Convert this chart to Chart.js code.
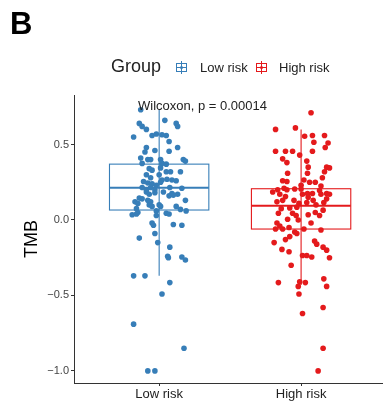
<!DOCTYPE html>
<html>
<head>
<meta charset="utf-8">
<script src="https://cdn.jsdelivr.net/npm/chart.js@4.4.0/dist/chart.umd.min.js"></script>
<style>
  body { margin: 0; background: #fff; font-family: "Liberation Sans", Arial, sans-serif; }
  #wrap { position: relative; width: 386px; height: 404px; overflow: hidden; }
  #myChart { position: absolute; left: 0; top: 0; }
  .lbl { position: absolute; white-space: nowrap; color: #000; }
  .panel { left: 10px; top: 6px; font-size: 31px; font-weight: bold; }
  .grp { left: 111px; top: 56px; font-size: 18px; color: #222; }
  .item { top: 60px; font-size: 13px; color: #222; }
  .icon { position: absolute; top: 63px; width: 9px; height: 7px; border: 1px solid; }
  .icon i { position: absolute; left: 0; right: 0; top: 3px; height: 1px; }
  .icon b { position: absolute; left: 4px; width: 1px; top: -3px; height: 13px; }
  .icon u { position: absolute; left: 3px; top: 2px; width: 3px; height: 3px; border-radius: 2px; }
  .wil { left: 138px; top: 98px; font-size: 13px; color: #222; }
</style>
</head>
<body>
<div id="wrap">
  <canvas id="myChart" width="386" height="404"></canvas>
  <div class="lbl panel">B</div>
  <div class="lbl grp">Group</div>
  <div class="icon" id="iconLow"><i></i><b></b><u></u></div>
  <div class="lbl item" style="left:200px">Low risk</div>
  <div class="icon" id="iconHigh"><i></i><b></b><u></u></div>
  <div class="lbl item" style="left:279px">High risk</div>
  <div class="lbl wil">Wilcoxon, p = 0.00014</div>
</div>
<script>
// groups and colours
const groups = ['Low risk', 'High risk']
const groupPos = [1, 2]
const groupColors = ['#377EB8', '#E41A1C']

// box stats
const whiskerLow = [-0.37, -0.43]
const boxQ1 = [0.066, -0.06]
const boxMedian = [0.214, 0.095]
const boxQ3 = [0.37, 0.207]
const whiskerHigh = [0.73, 0.60]

// jittered points (x offset from group centre, TMB value)
const lowRiskJitter = [-0.13,-0.14,-0.12,-0.09,0.04,0.12,0.13,-0.18,-0.05,-0.02,0.02,0.05,0.07,-0.09,-0.03,-0.10,0.07,0.13,-0.08,0.01,
  -0.13,-0.12,-0.06,0.02,0.17,0.185,0.05,-0.07,-0.05,0.01,0.05,0.08,0.15,-0.09,-0.06,0.0,0.02,0.055,0.09,0.12,
  -0.11,-0.08,-0.05,-0.02,0.01,0.075,-0.12,-0.09,-0.06,-0.03,0.03,0.09,0.13,0.16,-0.07,-0.09,-0.03,0.07,0.10,-0.14,
  -0.12,-0.17,-0.15,-0.08,-0.06,-0.07,-0.05,0.0,0.01,0.12,0.185,0.15,0.19,-0.16,-0.15,-0.19,-0.16,-0.02,-0.02,0.05,
  0.07,-0.05,-0.04,0.10,0.16,-0.03,-0.14,-0.01,0.075,0.06,0.065,0.16,0.185,-0.18,-0.10,0.075,0.02,-0.18,0.175,-0.08,-0.03]
const lowRiskTMB = [0.73,0.64,0.62,0.60,0.66,0.64,0.62,0.55,0.56,0.57,0.565,0.56,0.52,0.48,0.46,0.45,0.455,0.48,0.40,0.40,
  0.41,0.375,0.40,0.375,0.40,0.39,0.37,0.34,0.33,0.345,0.32,0.32,0.32,0.30,0.28,0.30,0.265,0.27,0.265,0.26,
  0.255,0.245,0.24,0.23,0.25,0.215,0.215,0.20,0.215,0.20,0.185,0.175,0.17,0.21,0.17,0.185,0.18,0.16,0.165,0.145,
  0.14,0.12,0.11,0.13,0.12,0.10,0.09,0.10,0.09,0.09,0.13,0.07,0.06,0.075,0.05,0.035,0.04,0.06,0.03,0.045,
  0.04,-0.02,-0.035,-0.03,-0.035,-0.09,-0.12,-0.15,-0.18,-0.24,-0.25,-0.245,-0.265,-0.37,-0.37,-0.415,-0.49,-0.69,-0.85,-1.0,-1.0]

const highRiskJitter = [0.07,-0.18,-0.04,0.025,0.08,0.165,0.09,0.19,0.17,-0.18,-0.11,-0.06,0.08,-0.01,-0.13,-0.10,0.04,0.05,0.18,0.2,
  0.165,-0.095,0.045,0.15,-0.13,-0.10,0.02,0.06,0.10,0.0,0.14,-0.12,-0.165,-0.2,-0.10,-0.045,0.0,0.045,0.08,0.13,
  0.18,-0.15,-0.11,-0.17,-0.13,-0.05,0.01,0.05,0.085,0.14,0.18,0.2,-0.015,0.04,0.105,0.16,-0.14,-0.08,-0.03,-0.16,
  -0.06,-0.035,0.05,0.10,0.13,0.155,-0.095,-0.02,0.07,-0.17,-0.15,-0.18,-0.13,-0.085,-0.045,-0.03,0.02,0.14,-0.19,-0.11,
  -0.08,0.095,0.11,-0.135,-0.085,0.155,0.18,0.01,0.04,0.075,0.2,-0.07,-0.16,-0.01,0.03,0.16,-0.02,0.18,-0.015,0.01,
  0.155,0.155,0.12]
const highRiskTMB = [0.71,0.60,0.61,0.555,0.56,0.56,0.515,0.51,0.48,0.455,0.455,0.455,0.455,0.43,0.405,0.38,0.39,0.35,0.35,0.345,
  0.32,0.31,0.31,0.28,0.26,0.255,0.265,0.25,0.25,0.23,0.225,0.21,0.20,0.185,0.20,0.205,0.205,0.175,0.175,0.195,
  0.175,0.17,0.155,0.12,0.13,0.13,0.17,0.15,0.13,0.17,0.14,0.17,0.11,0.115,0.10,0.115,0.075,0.08,0.085,0.045,
  0.045,0.03,0.035,0.05,0.03,0.065,0.005,0.0,-0.02,-0.02,-0.04,-0.06,-0.06,-0.05,-0.08,-0.09,-0.06,-0.066,-0.15,-0.13,
  -0.11,-0.14,-0.16,-0.195,-0.21,-0.18,-0.2,-0.235,-0.235,-0.245,-0.25,-0.30,-0.415,-0.41,-0.415,-0.39,-0.44,-0.44,-0.49,-0.62,
  -0.58,-0.85,-1.0]

// axis ticks
const yTickValues = [-1.0, -0.5, 0.0, 0.5]
const xTickValues = [1, 2]

function toPoints(pos, jitter, vals) {
  return vals.map((v, i) => ({ x: pos + jitter[i], y: v }))
}

// legend icon colours
['iconLow', 'iconHigh'].forEach((id, i) => {
  let el = document.getElementById(id)
  el.style.left = (i == 0 ? 176 : 256) + 'px'
  el.style.borderColor = groupColors[i]
  el.querySelectorAll('i,b,u').forEach(c => c.style.background = groupColors[i])
})

// draw boxes + whiskers under the points
const boxPlugin = {
  id: 'boxes',
  beforeDatasetsDraw(chart) {
    const ctx = chart.ctx
    const xs = chart.scales.x
    const ys = chart.scales.y
    const half = 0.35
    groups.forEach((g, i) => {
      let cx = xs.getPixelForValue(groupPos[i])
      let l = xs.getPixelForValue(groupPos[i] - half)
      let r = xs.getPixelForValue(groupPos[i] + half)
      ctx.save()
      ctx.strokeStyle = groupColors[i]
      ctx.lineWidth = 1.1
      ctx.beginPath()
      ctx.moveTo(cx, ys.getPixelForValue(whiskerLow[i]))
      ctx.lineTo(cx, ys.getPixelForValue(whiskerHigh[i]))
      ctx.stroke()
      let top = ys.getPixelForValue(boxQ3[i])
      let bot = ys.getPixelForValue(boxQ1[i])
      ctx.strokeRect(l, top, r - l, bot - top)
      ctx.lineWidth = 2
      ctx.beginPath()
      let m = ys.getPixelForValue(boxMedian[i])
      ctx.moveTo(l, m)
      ctx.lineTo(r, m)
      ctx.stroke()
      ctx.restore()
    })
  }
}

const config = {
  type: 'scatter',
  data: {
    datasets: [
      { label: groups[0], data: toPoints(groupPos[0], lowRiskJitter, lowRiskTMB), backgroundColor: groupColors[0], borderWidth: 0, pointRadius: 2.8 },
      { label: groups[1], data: toPoints(groupPos[1], highRiskJitter, highRiskTMB), backgroundColor: groupColors[1], borderWidth: 0, pointRadius: 2.8 }
    ]
  },
  options: {
    responsive: false,
    animation: false,
    layout: { padding: { top: 95, left: 0, right: 0, bottom: 0 } },
    plugins: { legend: { display: false }, tooltip: { enabled: false } },
    scales: {
      x: {
        type: 'linear', min: 0.4, max: 2.57,
        afterBuildTicks: s => { s.ticks = xTickValues.map(v => ({ value: v })) },
        afterFit: s => { s.height = 21 },
        ticks: {
          callback: v => groups[xTickValues.indexOf(v)],
          color: '#222', font: { size: 13, family: 'Liberation Sans' }, padding: 1, maxRotation: 0
        },
        grid: { drawOnChartArea: false, tickLength: 3, color: '#333' },
        border: { color: '#333', width: 1 }
      },
      y: {
        min: -1.08, max: 0.828,
        afterBuildTicks: s => { s.ticks = yTickValues.map(v => ({ value: v })) },
        afterFit: s => { s.width = 74 },
        ticks: {
          callback: v => (v < 0 ? '\u2212' : '') + Math.abs(v).toFixed(1),
          color: '#444', font: { size: 11, family: 'Liberation Sans' }, padding: 2
        },
        grid: { drawOnChartArea: false, tickLength: 3, color: '#333' },
        border: { color: '#333', width: 1 },
        title: { display: true, text: 'TMB', color: '#000', font: { size: 18, family: 'Liberation Sans' }, padding: { top: 21, bottom: 0 } }
      }
    }
  },
  plugins: [boxPlugin]
}

var myChart = new Chart(document.getElementById('myChart'), config)
</script>
</body>
</html>
